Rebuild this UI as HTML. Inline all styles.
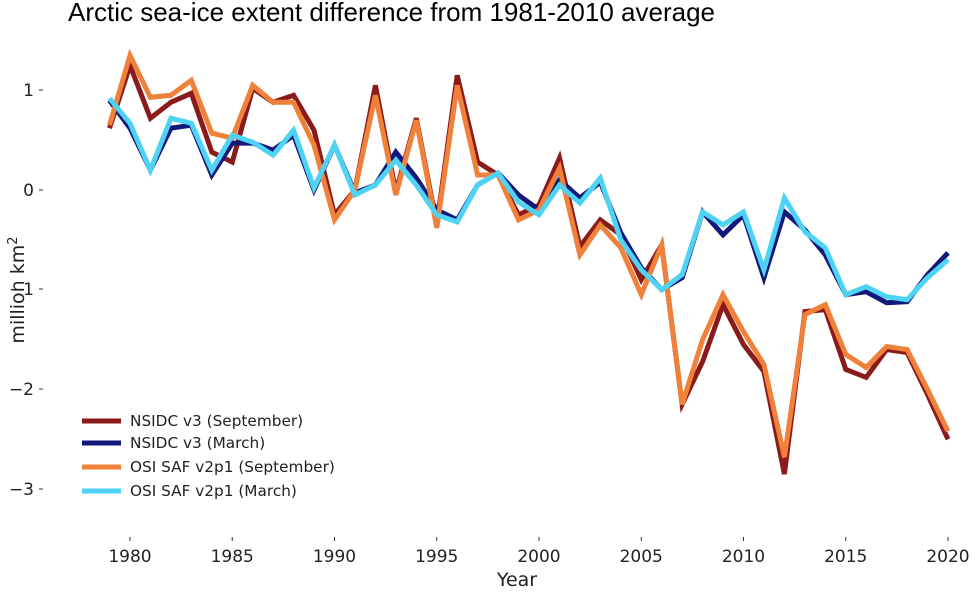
<!DOCTYPE html>
<html><head><meta charset="utf-8"><style>
body{margin:0;background:#fff;}
svg{display:block;font-family:"DejaVu Sans",sans-serif;}
</style></head><body>
<svg id="s" width="980" height="596" viewBox="0 0 980 596">
<text x="68" y="21" font-size="26" fill="#000" font-family="Liberation Sans" textLength="647" lengthAdjust="spacingAndGlyphs">Arctic sea-ice extent difference from 1981-2010 average</text>
<g font-size="17" fill="#222" text-anchor="end">
<text x="34" y="96">1</text>
<text x="34" y="196">0</text>
<text x="34" y="295">−1</text>
<text x="34" y="395">−2</text>
<text x="34" y="495">−3</text>
</g>
<g stroke="#333" stroke-width="1">
<line x1="39" y1="90" x2="43" y2="90"/><line x1="39" y1="190" x2="43" y2="190"/>
<line x1="39" y1="289" x2="43" y2="289"/><line x1="39" y1="389" x2="43" y2="389"/><line x1="39" y1="489" x2="43" y2="489"/>
</g>
<text transform="translate(24,290) rotate(-90)" font-size="19" text-anchor="middle" fill="#222">million km<tspan font-size="13" dy="-7">2</tspan></text>
<g font-size="17" fill="#222" text-anchor="middle" id="xt"></g>
<text x="517" y="586" font-size="19" text-anchor="middle" fill="#222">Year</text>
<g id="lines" fill="none" stroke-width="5" stroke-linejoin="miter" stroke-linecap="butt"></g>
<g stroke-width="5">
<line x1="82" y1="421" x2="121" y2="421" stroke="#8b1a1a"/>
<line x1="82" y1="443" x2="121" y2="443" stroke="#13197a"/>
<line x1="82" y1="467" x2="121" y2="467" stroke="#f0813a"/>
<line x1="82" y1="491" x2="121" y2="491" stroke="#4fd3f5"/>
</g>
<g font-size="15.3" fill="#222">
<text x="130" y="426">NSIDC v3 (September)</text>
<text x="130" y="448">NSIDC v3 (March)</text>
<text x="130" y="472">OSI SAF v2p1 (September)</text>
<text x="130" y="496">OSI SAF v2p1 (March)</text>
</g>
</svg>
<script>
var ns="http://www.w3.org/2000/svg";
function X(y){return 130+(y-1980)*20.45;}
function Y(v){return 190-v*99.7;}
var xt=document.getElementById("xt");
for(var y=1980;y<=2020;y+=5){var t=document.createElementNS(ns,"text");t.setAttribute("x",X(y));t.setAttribute("y",562);t.textContent=y;xt.appendChild(t);
var l=document.createElementNS(ns,"line");l.setAttribute("x1",X(y));l.setAttribute("x2",X(y));l.setAttribute("y1",537);l.setAttribute("y2",541);l.setAttribute("stroke","#333");xt.appendChild(l);}
var d={
"#8b1a1a":[0.62,1.25,0.72,0.88,0.97,0.38,0.28,1.02,0.88,0.95,0.6,-0.25,0.0,1.05,-0.02,0.72,-0.35,1.15,0.28,0.15,-0.25,-0.15,0.32,-0.57,-0.3,-0.45,-0.9,-0.55,-2.15,-1.72,-1.15,-1.55,-1.82,-2.85,-1.22,-1.2,-1.8,-1.88,-1.6,-1.63,-2.05,-2.5],
"#13197a":[0.9,0.62,0.2,0.62,0.65,0.15,0.47,0.47,0.4,0.55,0.0,0.45,-0.03,0.05,0.38,0.12,-0.2,-0.3,0.05,0.17,-0.05,-0.2,0.1,-0.08,0.08,-0.43,-0.78,-1.0,-0.88,-0.22,-0.45,-0.25,-0.88,-0.22,-0.4,-0.65,-1.05,-1.02,-1.13,-1.12,-0.85,-0.63],
"#f0813a":[0.65,1.35,0.93,0.95,1.1,0.57,0.52,1.05,0.88,0.88,0.45,-0.3,0.0,0.95,-0.05,0.7,-0.38,1.05,0.15,0.15,-0.3,-0.2,0.22,-0.65,-0.35,-0.58,-1.05,-0.55,-2.15,-1.5,-1.05,-1.42,-1.75,-2.68,-1.25,-1.15,-1.65,-1.78,-1.57,-1.6,-2.0,-2.42],
"#4fd3f5":[0.92,0.67,0.2,0.72,0.67,0.2,0.55,0.48,0.35,0.6,0.02,0.45,-0.05,0.05,0.3,0.05,-0.25,-0.32,0.05,0.17,-0.12,-0.25,0.05,-0.13,0.12,-0.5,-0.8,-1.0,-0.85,-0.22,-0.35,-0.22,-0.8,-0.08,-0.42,-0.58,-1.05,-0.97,-1.07,-1.1,-0.88,-0.7]};
var g=document.getElementById("lines");
for(var c in d){var p=document.createElementNS(ns,"polyline");
p.setAttribute("points",d[c].map(function(v,i){return X(1979+i).toFixed(1)+","+Y(v).toFixed(1);}).join(" "));
p.setAttribute("stroke",c);g.appendChild(p);}
</script>
</body></html>
